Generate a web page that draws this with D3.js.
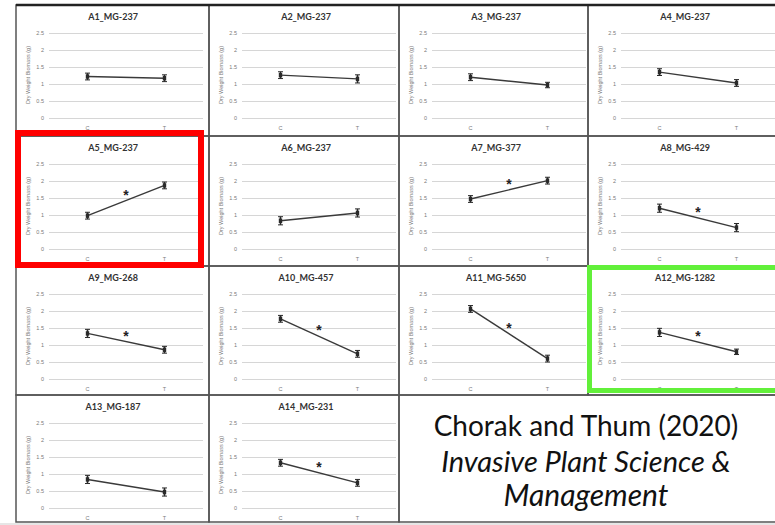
<!DOCTYPE html>
<html>
<head>
<meta charset="utf-8">
<script src="https://cdn.jsdelivr.net/npm/d3@7"></script>
<style>
  body { margin: 0; background: #fff; }
  svg { display: block; }
</style>
</head>
<body>
<div class="chart"></div>
<script>
// ---- data ----
var panelTitles = ["A1_MG-237", "A2_MG-237", "A3_MG-237", "A4_MG-237",
                   "A5_MG-237", "A6_MG-237", "A7_MG-377", "A8_MG-429",
                   "A9_MG-268", "A10_MG-457", "A11_MG-5650", "A12_MG-1282",
                   "A13_MG-187", "A14_MG-231"];
var groups = ["C", "T"];
var controlMeans = [1.22, 1.26, 1.20, 1.35, 0.98, 0.83, 1.47, 1.20, 1.34, 1.77, 2.06, 1.37, 0.84, 1.33];
var treatMeans   = [1.17, 1.15, 0.97, 1.03, 1.87, 1.06, 2.01, 0.63, 0.86, 0.74, 0.60, 0.80, 0.47, 0.74];
var controlErr   = [0.10, 0.10, 0.10, 0.10, 0.10, 0.12, 0.10, 0.12, 0.12, 0.10, 0.10, 0.12, 0.12, 0.10];
var treatErr     = [0.10, 0.12, 0.08, 0.10, 0.10, 0.12, 0.10, 0.12, 0.10, 0.10, 0.10, 0.08, 0.12, 0.10];
var significant  = [false, false, false, false, true, false, true, true, true, true, true, true, false, true];
var yTicks = [0, 0.5, 1, 1.5, 2, 2.5];
var yLabel = "Dry Weight Biomass (g)";
var citeLines = ["Chorak and Thum (2020)", "Invasive Plant Science &", "Management"];

// ---- layout ----
var svgWidth = 775, svgHeight = 525;
var colEdges = [16, 209, 399, 588, 777];
var rowEdges = [5, 136, 266, 395, 522];

var svg = d3.select(".chart").append("svg")
    .attr("width", svgWidth)
    .attr("height", svgHeight);

// grey strip below the table
svg.append("rect")
    .attr("x", 0).attr("y", 523).attr("width", svgWidth).attr("height", 2)
    .attr("fill", "#e6e6e6");

var y = d3.scaleLinear().domain([0, 2.5]);

panelTitles.forEach(function (title, i) {
    var col = i % 4, row = Math.floor(i / 4);
    var left = colEdges[col], top = rowEdges[row];
    var g = svg.append("g").attr("transform", `translate(${left}, ${top})`);

    var x = d3.scalePoint().domain(groups).range([33, 187]).padding(0.5);
    y.range([113, 28]);

    // gridlines + tick labels
    var axis = g.append("g")
        .attr("transform", "translate(33, 0)")
        .call(d3.axisLeft(y).tickValues(yTicks).tickSize(-154).tickPadding(5)
            .tickFormat(d3.format("")));
    axis.select(".domain").remove();
    axis.selectAll("line").attr("stroke", "#d6d6d6").attr("stroke-width", 1.2);
    axis.selectAll("text")
        .attr("fill", "#7a7a7a")
        .style("font", "5.5px 'Liberation Sans', sans-serif");

    // x labels
    g.selectAll(".xlab")
        .data(groups)
        .enter().append("text")
        .attr("x", d => x(d))
        .attr("y", 125)
        .attr("text-anchor", "middle")
        .attr("fill", "#7a7a7a")
        .style("font", "5.5px 'Liberation Sans', sans-serif")
        .text(d => d);

    // y axis title
    g.append("text")
        .attr("transform", `translate(14, 70) rotate(-90)`)
        .attr("text-anchor", "middle")
        .attr("fill", "#7a7a7a")
        .style("font", "5.5px 'Liberation Sans', sans-serif")
        .text(yLabel);

    // panel title
    g.append("text")
        .attr("x", 97)
        .attr("y", 15)
        .attr("text-anchor", "middle")
        .attr("fill", "#333")
        .style("font", "bold 9px Lato, 'Open Sans', sans-serif")
        .text(title);

    var pts = [
        { grp: "C", mean: controlMeans[i], err: controlErr[i] },
        { grp: "T", mean: treatMeans[i], err: treatErr[i] }
    ];

    // line
    g.append("path")
        .datum(pts)
        .attr("fill", "none")
        .attr("stroke", "#3a3a3a")
        .attr("stroke-width", 1.4)
        .attr("d", d3.line().x(d => x(d.grp)).y(d => y(d.mean)));

    // error bars
    var eb = g.selectAll(".eb").data(pts).enter().append("g");
    eb.append("line")
        .attr("x1", d => x(d.grp)).attr("x2", d => x(d.grp))
        .attr("y1", d => y(d.mean - d.err)).attr("y2", d => y(d.mean + d.err))
        .attr("stroke", "#2a2a2a").attr("stroke-width", 1.6);
    eb.append("line")
        .attr("x1", d => x(d.grp) - 2.5).attr("x2", d => x(d.grp) + 2.5)
        .attr("y1", d => y(d.mean - d.err)).attr("y2", d => y(d.mean - d.err))
        .attr("stroke", "#2a2a2a").attr("stroke-width", 1);
    eb.append("line")
        .attr("x1", d => x(d.grp) - 2.5).attr("x2", d => x(d.grp) + 2.5)
        .attr("y1", d => y(d.mean + d.err)).attr("y2", d => y(d.mean + d.err))
        .attr("stroke", "#2a2a2a").attr("stroke-width", 1);
    eb.append("rect")
        .attr("x", d => x(d.grp) - 1.7).attr("y", d => y(d.mean) - 2.2)
        .attr("width", 3.4).attr("height", 4.4)
        .attr("fill", "#2a2a2a");

    // significance star
    if (significant[i]) {
        g.append("text")
            .attr("x", (x("C") + x("T")) / 2)
            .attr("y", y((pts[0].mean + pts[1].mean) / 2) - 1)
            .attr("text-anchor", "middle")
            .attr("fill", "#222")
            .style("font", "bold 14px 'Liberation Sans', sans-serif")
            .text("*");
    }

    // cell border
    svg.append("rect")
        .attr("x", left).attr("y", top)
        .attr("width", colEdges[col + 1] - left)
        .attr("height", rowEdges[row + 1] - top)
        .attr("fill", "none")
        .attr("stroke", "#555")
        .attr("stroke-width", 1.5);
});

// merged citation cell
svg.append("rect")
    .attr("x", colEdges[2]).attr("y", rowEdges[3])
    .attr("width", colEdges[4] - colEdges[2])
    .attr("height", rowEdges[4] - rowEdges[3])
    .attr("fill", "none")
    .attr("stroke", "#555")
    .attr("stroke-width", 1.5);

// outer top edge is darker
svg.append("line")
    .attr("x1", colEdges[0]).attr("x2", svgWidth)
    .attr("y1", rowEdges[0]).attr("y2", rowEdges[0])
    .attr("stroke", "#222").attr("stroke-width", 2.5);

var cite = svg.append("g");
cite.selectAll("text")
    .data(citeLines)
    .enter().append("text")
    .attr("x", 586)
    .attr("y", (d, i) => [436, 472, 506][i])
    .attr("text-anchor", "middle")
    .attr("fill", "#111")
    .style("font-family", "Lato, 'Open Sans', sans-serif")
    .style("font-size", (d, i) => [28, 29, 30][i] + "px")
    .style("font-style", (d, i) => i === 0 ? "normal" : "italic")
    .text(d => d);

// highlight boxes
svg.append("rect")
    .attr("x", 18).attr("y", 133).attr("width", 183).attr("height", 132)
    .attr("fill", "none").attr("stroke", "#ff0000").attr("stroke-width", 6);
svg.append("rect")
    .attr("x", 589.5).attr("y", 267.5).attr("width", 190).attr("height", 123)
    .attr("fill", "none").attr("stroke", "#62f03a").attr("stroke-width", 5);
</script>
</body>
</html>
